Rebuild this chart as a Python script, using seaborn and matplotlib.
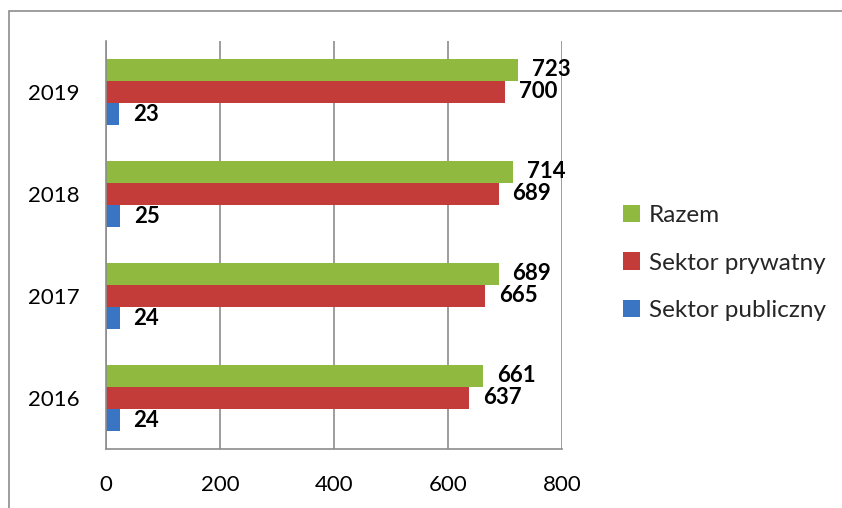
import matplotlib
matplotlib.use("Agg")
import matplotlib.pyplot as plt
import seaborn as sns
import pandas as pd
from matplotlib.patches import Rectangle, Patch

years = ["2019", "2018", "2017", "2016"]
razem = [723, 714, 689, 661]
prywatny = [700, 689, 665, 637]
publiczny = [23, 25, 24, 24]
series = ["Razem", "Sektor prywatny", "Sektor publiczny"]
colors = ["#8fba3f", "#c43c39", "#3a75c4"]
xticks = [0, 200, 400, 600, 800]

df = pd.DataFrame({
    "Rok": years * 3,
    "Seria": [s for s in series for _ in years],
    "Wartosc": razem + prywatny + publiczny,
})

sns.set_theme(style="white")
plt.rcParams["font.family"] = ["Lato", "DejaVu Sans"]

W, H = 842, 508
fig = plt.figure(figsize=(W / 100, H / 100), dpi=100)
ax = fig.add_axes([106 / W, 1 - 449 / H, (562 - 106) / W, (449 - 41) / H])

sns.barplot(data=df, y="Rok", x="Wartosc", hue="Seria", order=years,
            hue_order=series, palette=colors, orient="h", width=0.65,
            saturation=1, errorbar=None, legend=False, linewidth=0, ax=ax)

ax.set_xlim(0, 800)
ax.set_xticks(xticks)
ax.set_xlabel("")
ax.set_ylabel("")
ax.grid(axis="x", color="#8c8c8c", lw=1.2)
ax.set_axisbelow(True)
for s in ["top", "right"]:
    ax.spines[s].set_visible(False)
for s in ["left", "bottom"]:
    ax.spines[s].set_color("#8c8c8c")
    ax.spines[s].set_linewidth(1.2)
ax.tick_params(labelsize=16, pad=19, length=0, colors="black")

for cont in ax.containers:
    ax.bar_label(cont, padding=10, fontsize=16, fontweight="bold", color="black")

handles = [Patch(facecolor=c, edgecolor="none") for c in colors]
fig.legend(handles, series, loc="center left", bbox_to_anchor=(623 / W, 1 - 263 / H),
           frameon=False, fontsize=17.5, handlelength=0.7, handleheight=0.7,
           handletextpad=0.35, labelspacing=1.1, borderpad=0, borderaxespad=0)

fig.patches.append(Rectangle((9 / W, -0.5), 2, (1 - 11 / H) + 0.5, transform=fig.transFigure,
                             fill=False, edgecolor="#8c8c8c", lw=1.2))

fig.savefig("out.png", dpi=100)
